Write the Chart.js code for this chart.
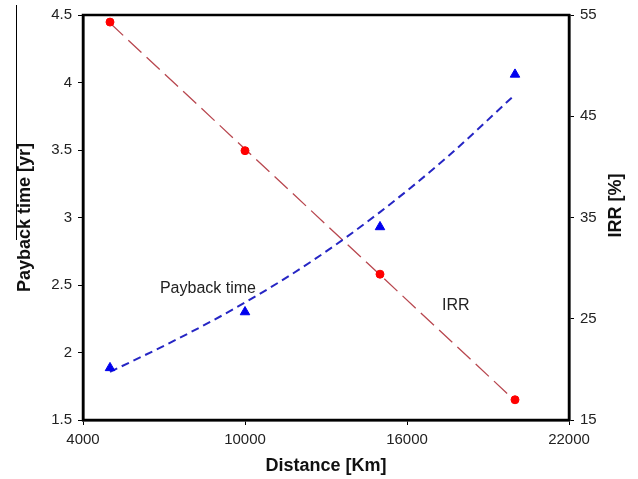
<!DOCTYPE html>
<html>
<head>
<meta charset="utf-8">
<script src="https://cdn.jsdelivr.net/npm/chart.js@4"></script>
<style>
html, body { margin:0; padding:0; background:#fff; }
#wrap { position:relative; width:638px; height:479px; }
#edge { position:absolute; left:16px; top:5px; width:1px; height:235px; background:#000; }
</style>
</head>
<body>
<div id="wrap"><canvas id="c"></canvas><div id="edge"></div></div>
<script>
// cases run at each distance [km]
const distance = [5000, 10000, 15000, 20000];
const payback  = [1.886, 2.30, 2.93, 4.06];   // yr, left axis
const irr      = [54.3, 41.6, 29.4, 17.0];    // %, right axis

// trend lines
const paybackTrendX = [5000, 7500, 10000, 12500, 15000, 17500, 20000];
const paybackTrendY = [1.856, 2.10, 2.37, 2.68, 3.04, 3.45, 3.91];
const irrTrendX = [5000, 20000];
const irrTrendY = [54.2, 16.9];

// in-plot labels (data coords, axis they belong to)
const notes    = ["Payback time", "IRR"];
const noteX    = [6850, 17300];
const noteY    = [2.475, 26.3];
const noteAxis = ["y", "y1"];

Chart.defaults.font.family = "'Liberation Sans', Arial, sans-serif";
Chart.defaults.color = "#222";

const pts = (xs, ys) => xs.map((x, i) => ({x, y: ys[i]}));
const num = v => String(v);

const extras = {
  id: "extras",
  afterDatasetsDraw(chart) {
    const {ctx, chartArea: a, scales} = chart;
    ctx.save();
    ctx.font = "16px 'Liberation Sans', Arial, sans-serif";
    ctx.fillStyle = "#222";
    ctx.textAlign = "left";
    ctx.textBaseline = "middle";
    notes.forEach((t, i) => {
      ctx.fillText(t, scales.x.getPixelForValue(noteX[i]), scales[noteAxis[i]].getPixelForValue(noteY[i]));
    });
    // frame round the plot
    ctx.strokeStyle = "#000";
    ctx.lineWidth = 2.5;
    ctx.strokeRect(a.left, a.top, a.right - a.left, a.bottom - a.top);
    // right axis title reads bottom-up like the left one
    const s = scales.y1;
    ctx.translate(s.right - 22, (a.top + a.bottom) / 2 - 12);
    ctx.rotate(-Math.PI / 2);
    ctx.font = "bold 18px 'Liberation Sans', Arial, sans-serif";
    ctx.fillStyle = "#111";
    ctx.textAlign = "center";
    ctx.fillText("IRR [%]", 0, 0);
    ctx.restore();
  }
};

const axisGrid = {drawOnChartArea:false, tickLength:5, color:"#000", tickWidth:1};
const axisBorder = {color:"#000", width:2.5};

new Chart(document.getElementById("c"), {
  type: "scatter",
  data: {datasets: [
    {label:"Payback time", data:pts(distance, payback), yAxisID:"y",
     pointStyle:"triangle", pointRadius:5.5, backgroundColor:"#0000ee", borderColor:"#0000ee", order:0},
    {label:"IRR", data:pts(distance, irr), yAxisID:"y1",
     pointStyle:"circle", pointRadius:4, backgroundColor:"#ff0000", borderColor:"#ff0000", order:0},
    {label:"Payback trend", data:pts(paybackTrendX, paybackTrendY), yAxisID:"y", showLine:true,
     borderColor:"#2626c4", borderWidth:2, borderDash:[8,5], pointRadius:0,
     cubicInterpolationMode:"monotone", order:1},
    {label:"IRR trend", data:pts(irrTrendX, irrTrendY), yAxisID:"y1", showLine:true,
     borderColor:"#b8474f", borderWidth:1.3, borderDash:[18,7], pointRadius:0, order:1},
  ]},
  options: {
    responsive:true, maintainAspectRatio:false, animation:false,
    layout:{padding:{top:14, left:0, right:0, bottom:0}},
    plugins:{legend:{display:false}, tooltip:{enabled:false}},
    scales:{
      x:{type:"linear", position:"bottom", min:4000, max:22000,
         ticks:{stepSize:6000, callback:num, font:{size:15}, padding:6, maxRotation:0},
         grid:axisGrid, border:axisBorder,
         title:{display:true, text:"Distance [Km]", color:"#111", font:{size:18, weight:"bold"}, padding:{top:0, bottom:2}},
         afterFit:s => { s.height = 59; }},
      y:{type:"linear", position:"left", min:1.5, max:4.5,
         ticks:{stepSize:0.5, callback:num, font:{size:15}, padding:6},
         grid:axisGrid, border:axisBorder,
         title:{display:true, text:"Payback time [yr]", color:"#111", font:{size:18, weight:"bold"}, padding:{top:14, bottom:0}},
         afterFit:s => { s.width = 83; }},
      y1:{type:"linear", position:"right", min:15, max:55,
         ticks:{stepSize:10, callback:num, font:{size:15}, padding:6},
         grid:axisGrid, border:axisBorder,
         title:{display:false},
         afterFit:s => { s.width = 69; }},
    }
  },
  plugins:[extras]
});
</script>
</body>
</html>
